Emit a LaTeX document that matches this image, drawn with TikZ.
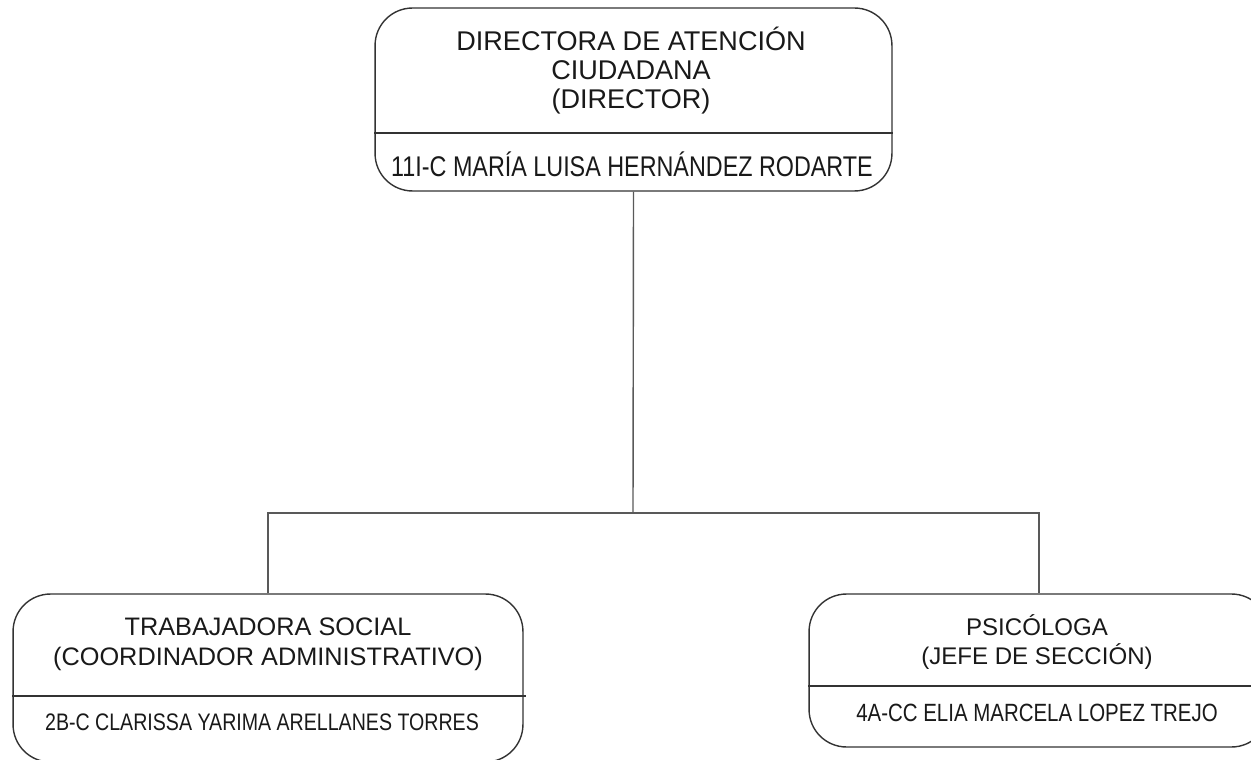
\documentclass[tikz,border=0pt]{standalone}
\usepackage{fontspec}
\setmainfont{Liberation Sans}
\newfontfamily\narrowfont[FakeStretch=0.82]{Liberation Sans}
\usetikzlibrary{positioning}

\tikzset{
    box/.style={draw=black!80, line width=0.8pt, rounded corners=0.75cm, inner sep=0pt},
    rule/.style={draw=black!80, line width=0.8pt},
    wire/.style={draw=black!65, line width=0.8pt},
    postitle/.style={align=center, text=black!90},
    holder/.style={text=black!90, inner sep=0pt}
}

\begin{document}
\begin{tikzpicture}[x=0.02cm, y=-0.02cm]
    \clip (0,0) rectangle (1251,760);

    % Boxes
    \node[box, minimum width=10.34cm, minimum height=3.66cm] (top) at (633.5,99.5) {};
    \node[box, minimum width=10.2cm, minimum height=3.36cm] (left) at (268,678) {};
    \node[box, minimum width=9.2cm, minimum height=3.06cm] (right) at (1039,670.5) {};

    % Dividers
    \draw[rule] ([yshift=-0.67cm]top.west) -- ([yshift=-0.67cm]top.east);
    \draw[rule] ([yshift=-0.36cm]left.west) -- ([yshift=-0.36cm, xshift=0.04cm]left.east);
    \draw[rule] ([yshift=-0.31cm]right.west) -- ([yshift=-0.31cm]right.east);

    % Texts
    \node[postitle, font=\fontsize{15.4}{16.5}\selectfont] (toptitle) at (631,71) {DIRECTORA DE ATENCIÓN\\CIUDADANA\\(DIRECTOR)};
    \node[holder, font=\narrowfont\fontsize{16.2}{18}\selectfont] (topname) at (632,164) {11I-C MARÍA LUISA HERNÁNDEZ RODARTE};
    \node[postitle, font=\fontsize{14.4}{17}\selectfont] (lefttitle) at (268,644) {TRABAJADORA SOCIAL\\(COORDINADOR ADMINISTRATIVO)};
    \node[holder, font=\narrowfont\fontsize{13.6}{15}\selectfont] (leftname) at (262,722) {2B-C CLARISSA YARIMA ARELLANES TORRES};
    \node[postitle, font=\fontsize{13.7}{16.5}\selectfont] (righttitle) at (1037,642) {PSICÓLOGA\\(JEFE DE SECCIÓN)};
    \node[holder, font=\narrowfont\fontsize{14.2}{16}\selectfont] (rightname) at (1037,713) {4A-CC ELIA MARCELA LOPEZ TREJO};

    % Connectors
    \coordinate (bus) at (633,513);
    \draw[wire] (top.south) -- (bus);
    \draw[wire] (left.north) |- (bus) -| (right.north);
\end{tikzpicture}
\end{document}
